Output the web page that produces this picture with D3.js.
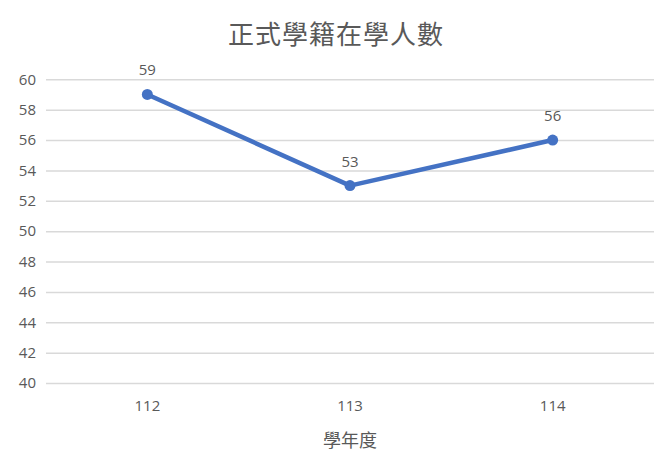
<!DOCTYPE html>
<html><head><meta charset="utf-8">
<script src="https://cdn.jsdelivr.net/npm/d3@7"></script>
<style>body{margin:0;background:#fff}svg{display:block}</style>
</head><body><div id="chart"></div>
<script>
const categories = ["112","113","114"];
const values = [59,53,56];
const yTicks = [40,42,44,46,48,50,52,54,56,58,60];
const title = "正式學籍在學人數";
const xTitle = "學年度";

const W=671,H=457;
const m={left:46,right:17,top:79.3,bottom:74};
const svg=d3.select("#chart").append("svg").attr("width",W).attr("height",H);
const x=d3.scaleBand().domain(categories).range([m.left,W-m.right]);
const y=d3.scaleLinear().domain([40,60]).range([H-m.bottom,m.top]);
const numFont="'Open Sans', 'Noto Sans', sans-serif";
const cjk="'Noto Sans CJK TC', sans-serif";
const grey="#595959";

svg.append("text").attr("x",336).attr("y",44).attr("text-anchor","middle")
  .attr("font-family",cjk).attr("font-size",26).attr("letter-spacing",1).attr("fill",grey).text(title);

const ya=svg.append("g").attr("transform",`translate(${m.left},0)`)
  .call(d3.axisLeft(y).tickValues(yTicks).tickSize(-(W-m.left-m.right)).tickPadding(10));
ya.select(".domain").remove();
ya.selectAll(".tick line").attr("stroke","#d9d9d9").attr("stroke-width",1.5);
ya.selectAll(".tick text").attr("font-family",numFont).attr("font-size",15).attr("fill",grey);

const xa=svg.append("g").attr("transform",`translate(0,${H-m.bottom})`)
  .call(d3.axisBottom(x).tickSize(0).tickPadding(17));
xa.select(".domain").remove();
xa.selectAll(".tick text").attr("font-family",numFont).attr("font-size",15).attr("fill",grey);

svg.append("text").attr("x",350).attr("y",447).attr("text-anchor","middle")
  .attr("font-family",cjk).attr("font-size",18).attr("fill",grey).text(xTitle);

const cx=(d,i)=>x(categories[i])+x.bandwidth()/2;
const line=d3.line().x((d,i)=>cx(d,i)).y(d=>y(d));
svg.append("path").datum(values).attr("d",line).attr("fill","none")
  .attr("stroke","#4472C4").attr("stroke-width",4.5).attr("stroke-linejoin","round").attr("stroke-linecap","round");
svg.selectAll("circle.pt").data(values).join("circle").attr("class","pt")
  .attr("cx",cx).attr("cy",d=>y(d)).attr("r",5.5).attr("fill","#4472C4");
svg.selectAll("text.lbl").data(values).join("text").attr("class","lbl")
  .attr("x",cx).attr("y",d=>y(d)-19).attr("text-anchor","middle")
  .attr("font-family",numFont).attr("font-size",15).attr("fill",grey).text(d=>d);
</script></body></html>
